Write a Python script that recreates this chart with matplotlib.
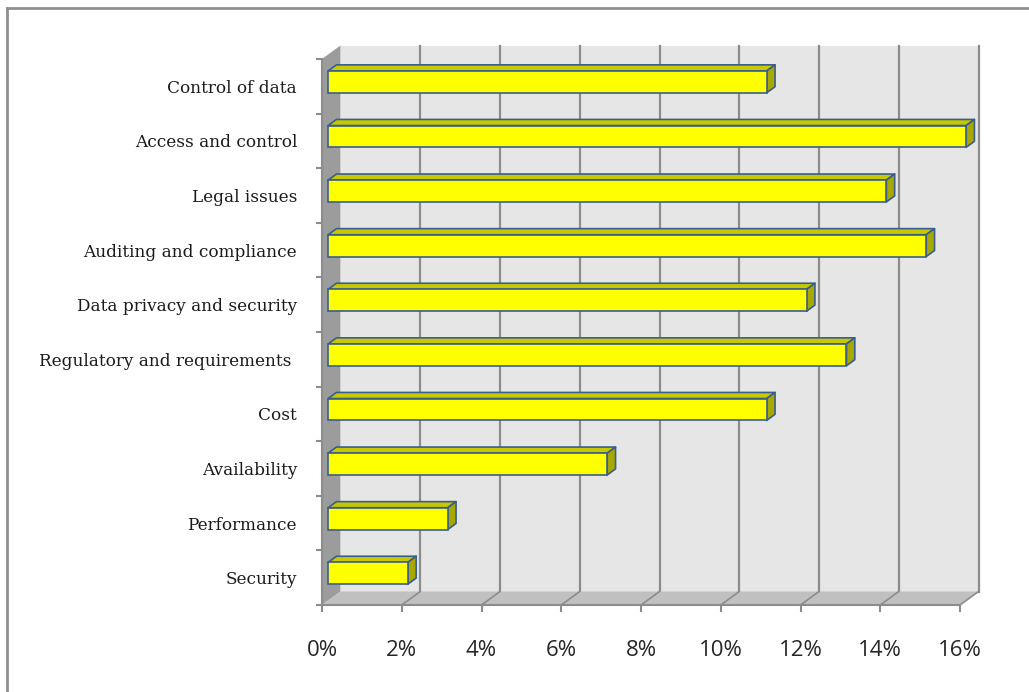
import matplotlib
matplotlib.use('Agg')
import matplotlib.pyplot as plt
from matplotlib.patches import Polygon, Rectangle
from matplotlib.lines import Line2D
import numpy as np

# 数据（自下而上）
categories = ['Security', 'Performance', 'Availability', 'Cost',
              'Regulatory and requirements ', 'Data privacy and security',
              'Auditing and compliance', 'Legal issues', 'Access and control',
              'Control of data']
values = [2, 3, 7, 11, 13, 12, 15, 14, 16, 11]
x_ticks = [0, 2, 4, 6, 8, 10, 12, 14, 16]
x_ticklabels = [f'{t}%' for t in x_ticks]

# 颜色
COLOR_WALL = '#E6E6E6'
COLOR_SIDE = '#9C9C9C'
COLOR_FLOOR = '#C0C0C0'
COLOR_GRID = '#8C8C8C'
COLOR_FRONT = '#FFFF00'
COLOR_TOP = '#C8C800'
COLOR_RIGHT = '#A8A800'
COLOR_EDGE = '#3A5E8C'

W, H = 1029, 692
fig = plt.figure(figsize=(W / 100, H / 100), dpi=100)
fig.patch.set_facecolor('white')

# 前平面（像素）
left_px, right_px, bot_px, top_px = 322, 960, 605, 59
ax = fig.add_axes([left_px / W, 1 - bot_px / H,
                   (right_px - left_px) / W, (bot_px - top_px) / H])
ax.set_xlim(0, 16)
ax.set_ylim(-0.5, len(categories) - 0.5)
ax.patch.set_visible(False)

# 深度偏移（数据单位）
px_per_x = (right_px - left_px) / 16
px_per_y = (bot_px - top_px) / len(categories)
dx = 18.5 / px_per_x
dy = 13.5 / px_per_y
y0, y1 = -0.5, len(categories) - 0.5

# 背景墙、侧墙、地面
ax.add_patch(Rectangle((dx, y0 + dy), 16, y1 - y0, facecolor=COLOR_WALL,
                       edgecolor='none', clip_on=False, zorder=0))
ax.add_patch(Polygon([(0, y0), (dx, y0 + dy), (dx, y1 + dy), (0, y1)],
                     facecolor=COLOR_SIDE, edgecolor='none', clip_on=False, zorder=1))
ax.add_patch(Polygon([(0, y0), (16, y0), (16 + dx, y0 + dy), (dx, y0 + dy)],
                     facecolor=COLOR_FLOOR, edgecolor='none', clip_on=False, zorder=1))

# 网格线
for t in x_ticks[1:]:
    ax.plot([t + dx, t + dx], [y0 + dy, y1 + dy], color=COLOR_GRID, lw=1.6,
            clip_on=False, zorder=0.5)
    ax.plot([t, t + dx], [y0, y0 + dy], color=COLOR_GRID, lw=1.2,
            clip_on=False, zorder=1.5)

# 3D 条形
h = 0.40
d0, d1 = 0.33, 0.78
for i, v in enumerate(values):
    bot = i - h / 2
    top = i + h / 2
    ox0, oy0 = d0 * dx, d0 * dy
    ox1, oy1 = d1 * dx, d1 * dy
    top_face = [(ox0, top + oy0), (v + ox0, top + oy0), (v + ox1, top + oy1), (ox1, top + oy1)]
    side_face = [(v + ox0, bot + oy0), (v + ox0, top + oy0), (v + ox1, top + oy1), (v + ox1, bot + oy1)]
    ax.add_patch(Polygon(top_face, facecolor=COLOR_TOP, edgecolor=COLOR_EDGE,
                         lw=1.2, clip_on=False, zorder=3, joinstyle='round'))
    ax.add_patch(Polygon(side_face, facecolor=COLOR_RIGHT, edgecolor=COLOR_EDGE,
                         lw=1.2, clip_on=False, zorder=3, joinstyle='round'))
    ax.add_patch(Rectangle((ox0, bot + oy0), v, h, facecolor=COLOR_FRONT,
                           edgecolor=COLOR_EDGE, lw=1.2, clip_on=False, zorder=4))

# 坐标轴
for s in ['top', 'right']:
    ax.spines[s].set_visible(False)
for s in ['left', 'bottom']:
    ax.spines[s].set_color(COLOR_GRID)
    ax.spines[s].set_linewidth(1.5)
    ax.spines[s].set_zorder(2)

ax.set_xticks(x_ticks)
ax.set_xticklabels(x_ticklabels, family='Open Sans', fontsize=16, color='#262626')
ax.tick_params(axis='x', direction='out', length=5, width=1.5, color=COLOR_GRID, pad=20)

ax.set_yticks(range(len(categories)))
ax.set_yticklabels(categories, family='DejaVu Serif', fontsize=12.2, color='#1a1a1a')
ax.set_yticks(np.arange(y0, y1 + 0.01, 1), minor=True)
ax.tick_params(axis='y', which='major', length=0, pad=18)
ax.tick_params(axis='y', which='minor', direction='out', length=4, width=1.5, color=COLOR_GRID)

# 外框
fig.add_artist(Line2D([7 / W, 1], [1 - 8 / H, 1 - 8 / H], color='#8F8F8F', lw=2))
fig.add_artist(Line2D([7 / W, 7 / W], [0, 1 - 8 / H], color='#8F8F8F', lw=2))

plt.savefig('out.png', dpi=100)
